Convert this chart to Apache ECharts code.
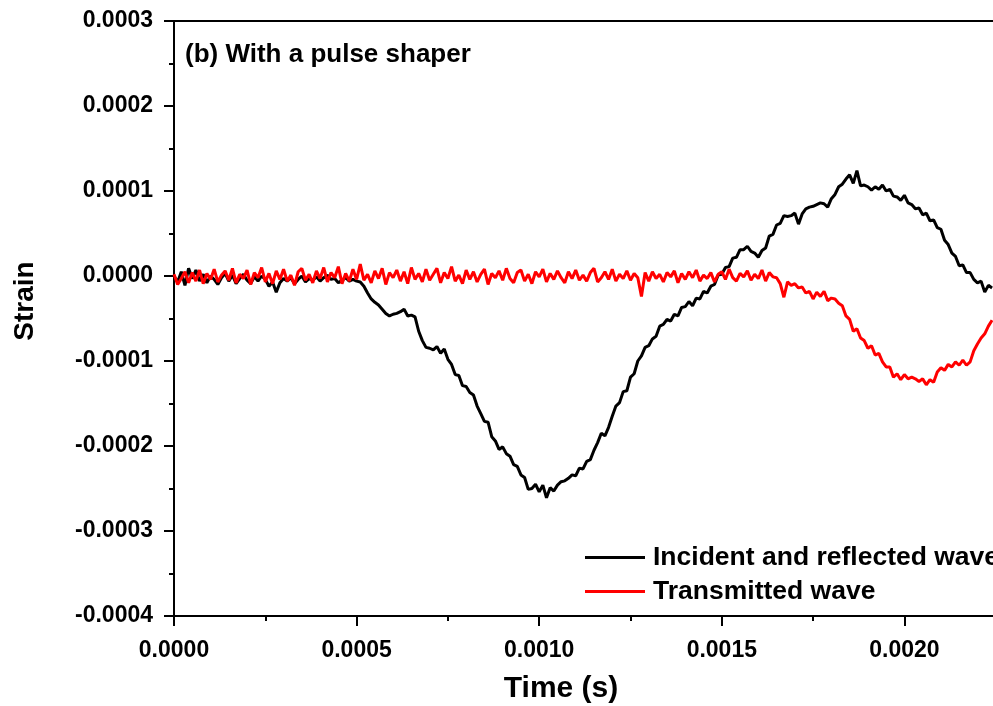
<!DOCTYPE html>
<html>
<head>
<meta charset="utf-8">
<script src="https://cdn.jsdelivr.net/npm/echarts@6/dist/echarts.min.js"></script>
<style>
  html, body { margin: 0; padding: 0; background: #fff; }
  #chart { width: 993px; height: 706px; }
</style>
</head>
<body>
<div id="chart"></div>
<script>
// sample times in microseconds
const timeUs = [
  0, 10, 20, 30, 40, 50, 60, 70, 80, 90,
  100, 110, 120, 130, 140, 150, 160, 170, 180, 190,
  200, 210, 220, 230, 240, 250, 260, 270, 280, 290,
  300, 310, 320, 330, 340, 350, 360, 370, 380, 390,
  400, 410, 420, 430, 440, 450, 460, 470, 480, 490,
  500, 510, 520, 530, 540, 550, 560, 570, 580, 590,
  600, 610, 620, 630, 640, 650, 660, 670, 680, 690,
  700, 710, 720, 730, 740, 750, 760, 770, 780, 790,
  800, 810, 820, 830, 840, 850, 860, 870, 880, 890,
  900, 910, 920, 930, 940, 950, 960, 970, 980, 990,
  1000, 1010, 1020, 1030, 1040, 1050, 1060, 1070, 1080, 1090,
  1100, 1110, 1120, 1130, 1140, 1150, 1160, 1170, 1180, 1190,
  1200, 1210, 1220, 1230, 1240, 1250, 1260, 1270, 1280, 1290,
  1300, 1310, 1320, 1330, 1340, 1350, 1360, 1370, 1380, 1390,
  1400, 1410, 1420, 1430, 1440, 1450, 1460, 1470, 1480, 1490,
  1500, 1510, 1520, 1530, 1540, 1550, 1560, 1570, 1580, 1590,
  1600, 1610, 1620, 1630, 1640, 1650, 1660, 1670, 1680, 1690,
  1700, 1710, 1720, 1730, 1740, 1750, 1760, 1770, 1780, 1790,
  1800, 1810, 1820, 1830, 1840, 1850, 1860, 1870, 1880, 1890,
  1900, 1910, 1920, 1930, 1940, 1950, 1960, 1970, 1980, 1990,
  2000, 2010, 2020, 2030, 2040, 2050, 2060, 2070, 2080, 2090,
  2100, 2110, 2120, 2130, 2140, 2150, 2160, 2170, 2180, 2190,
  2200, 2210, 2220, 2230, 2240
];

// microstrain
const incidentReflected = [
  0, -7, 5, -11, 9, -3, 7, -6, 2, -8,
  0, -4, -10, -2, 3, -6, 1, -9, -3, 2,
  -5, -9, -1, -6, 0, -4, -12, -7, -19, -8,
  -3, -6, -2, -9, -4, 0, -7, -3, -5, -1,
  -6, -2, 1, -4, -3, -8, -5, -2, -6, -4,
  -6, -7, -12, -20, -27, -31, -34, -39, -44, -47,
  -45, -44, -42, -39, -47, -46, -48, -65, -76, -84,
  -85, -87, -83, -91, -86, -98, -104, -116, -117, -129,
  -130, -137, -140, -153, -162, -171, -172, -189, -194, -204,
  -201, -209, -212, -222, -224, -234, -237, -251, -250, -245,
  -254, -246, -261, -249, -253, -246, -242, -241, -238, -234,
  -235, -226, -227, -218, -216, -205, -196, -185, -188, -178,
  -165, -153, -149, -136, -135, -119, -115, -100, -94, -84,
  -82, -74, -71, -59, -57, -51, -53, -45, -47, -37,
  -36, -30, -35, -26, -27, -18, -20, -12, -10, 1,
  2, 10, 11, 21, 22, 31, 31, 35, 29, 27,
  22, 30, 33, 47, 49, 60, 62, 71, 70, 71,
  74, 61, 73, 79, 81, 82, 84, 86, 85, 81,
  91, 96, 105, 108, 114, 119, 109, 124, 106, 107,
  105, 101, 105, 102, 107, 100, 102, 94, 93, 89,
  95, 86, 84, 79, 80, 72, 74, 65, 66, 57,
  55, 42, 37, 27, 23, 12, 13, 4, 4, -4,
  -8, -6, -19, -11, -14
];

const transmittedWave = [
  2, -10, -3, 5, -8, 4, -6, 7, -9, 3,
  -4, 8, -7, 1, 6, -5, 9, -8, 2, -3,
  7, -10, 4, -2, 10, -7, 3, -9, 6, -4,
  8, -6, 1, -11, 5, 9, -5, 2, -8, 6,
  -3, 10, -7, 4, -2, 11, -9, 3, -6, 8,
  -4, 14, -5, 2, -8, 6, -3, 9, -10, 4,
  -2, 7, -6, 5, -9, 10, -4, 3, -7, 8,
  -5, 2, 9, -8, 4, -3, 11, -6, 1, -9,
  7, -4, 5, -7, 2, 8, -10, 3, -2, 6,
  -5, 9, -3, -8, 4, 7, -6, 2, -9, 5,
  -1, 8, -7, 3, -4, 6, -2, -8, 5, -3,
  7, -5, 1, -6, 4, 9, -7, -2, 5, -4,
  8, -6, 2, -3, 6, -5, 3, -2, -24, 4,
  -6, 5, -3, 2, -7, 4, -1, 6, -8, 3,
  -4, 5, -2, 7, -6, 1, -3, 4, -7, 2,
  5, -4, 8, -2, -6, 3, -1, 6, -5, 2,
  -3, 7, -6, 4, -1, -2, -9, -25, -7, -11,
  -9, -14, -13, -20, -18, -27, -19, -24, -18, -29,
  -26, -27, -32, -35, -47, -51, -65, -62, -73, -76,
  -85, -82, -93, -91, -101, -107, -107, -119, -115, -122,
  -116, -121, -119, -121, -124, -121, -128, -122, -125, -113,
  -108, -111, -104, -107, -101, -105, -99, -105, -101, -88,
  -80, -73, -68, -59, -52
];

const seriesNames = ['Incident and reflected wave', 'Transmitted wave'];

const font = '"Liberation Sans", Arial, sans-serif';
const fmt = v => (Math.abs(v) < 1e-12 ? 0 : v).toFixed(4);

const chart = echarts.init(document.getElementById('chart'));

const toPairs = arr => timeUs.map((t, k) => [t * 1e-6, arr[k] * 1e-6]);

chart.setOption({
  animation: false,
  backgroundColor: '#fff',
  // plot area runs past the right edge of the picture (cropped original)
  grid: { left: 174, top: 21, width: 913, height: 595, outerBoundsMode: 'none', containLabel: false },
  title: {
    text: '(b) With a pulse shaper',
    left: 180, top: 37,
    textStyle: { fontFamily: font, fontWeight: 'bold', fontSize: 26, color: '#000' }
  },
  legend: {
    orient: 'vertical',
    left: 585, top: 544,
    padding: 0,
    icon: 'rect',
    itemWidth: 60, itemHeight: 3, itemGap: 7,
    textStyle: { fontFamily: font, fontWeight: 'bold', fontSize: 26.5, color: '#000', padding: [0, 0, 0, 3] },
    data: seriesNames
  },
  graphic: [
    {
      type: 'text', x: 561, y: 689,
      style: { text: 'Time (s)', font: 'bold 30px ' + font, fill: '#000', align: 'center', verticalAlign: 'middle' }
    },
    {
      type: 'text', x: 25, y: 301, rotation: Math.PI / 2,
      style: { text: 'Strain', font: 'bold 28px ' + font, fill: '#000', align: 'center', verticalAlign: 'middle' }
    }
  ],
  xAxis: [{
    type: 'value',
    min: 0, max: 0.0025, interval: 0.0005,
    axisLine: { onZero: false, lineStyle: { color: '#000', width: 2 } },
    axisTick: { length: 10, lineStyle: { color: '#000', width: 2 } },
    minorTick: { show: true, splitNumber: 2, length: 5, lineStyle: { color: '#000', width: 2 } },
    splitLine: { show: false },
    axisLabel: { margin: 23, showMaxLabel: false, formatter: fmt, fontFamily: font, fontWeight: 'bold', fontSize: 23, color: '#000' }
  }, {
    type: 'value', position: 'top',
    min: 0, max: 0.0025,
    axisLine: { onZero: false, lineStyle: { color: '#000', width: 2 } },
    axisTick: { show: false },
    axisLabel: { show: false },
    splitLine: { show: false }
  }],
  yAxis: {
    type: 'value',
    min: -0.0004, max: 0.0003, interval: 0.0001,
    axisLine: { onZero: false, lineStyle: { color: '#000', width: 2 } },
    axisTick: { length: 10, lineStyle: { color: '#000', width: 2 } },
    minorTick: { show: true, splitNumber: 2, length: 5, lineStyle: { color: '#000', width: 2 } },
    splitLine: { show: false },
    axisLabel: { margin: 21, formatter: fmt, fontFamily: font, fontWeight: 'bold', fontSize: 23, color: '#000' }
  },
  series: [
    {
      name: seriesNames[0], type: 'line', symbol: 'none',
      data: toPairs(incidentReflected),
      lineStyle: { color: '#000', width: 3 },
      itemStyle: { color: '#000' }
    },
    {
      name: seriesNames[1], type: 'line', symbol: 'none',
      data: toPairs(transmittedWave),
      lineStyle: { color: '#ff0000', width: 3 },
      itemStyle: { color: '#ff0000' }
    }
  ]
});
</script>
</body>
</html>
